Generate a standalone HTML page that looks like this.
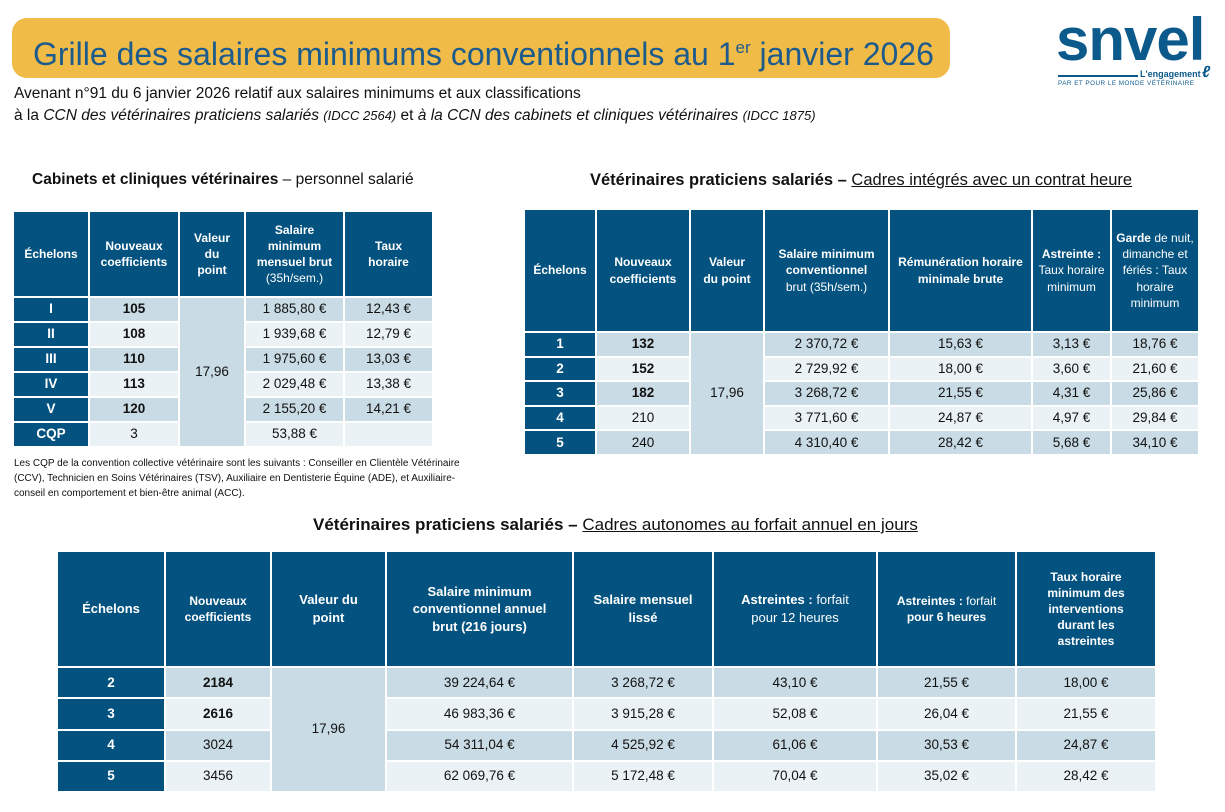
<!DOCTYPE html>
<html><head><meta charset="utf-8"><style>
*{margin:0;padding:0;box-sizing:border-box}
body{width:1225px;height:812px;background:#fff;position:relative;font-family:"Liberation Sans",sans-serif;color:#111;overflow:hidden}
.abs{position:absolute}
.title{left:12px;top:18px;width:938px;height:60px;background:#f0bb47;border-radius:15px;color:#1d5b8c;font-size:32px;line-height:60px;padding-left:21px;white-space:nowrap}
.title sup{font-size:17px;vertical-align:12px}
.sub{left:14px;font-size:15.5px;white-space:nowrap;color:#111}
.h{font-size:16px;white-space:nowrap;text-align:center}
.h b{font-weight:bold}
.h u{text-decoration:underline}
.g{position:absolute;display:grid;gap:2px;background:#fff}
.g div{display:flex;align-items:center;justify-content:center;text-align:center;font-size:13.5px;line-height:1.35}
.g .hd{background:#04527f;color:#fff;font-weight:bold;font-size:12px;padding:0 3px}
.g .hd span{font-weight:normal}
.g .e{background:#04527f;color:#fff;font-weight:bold}
.g .a{background:#c9dbe4}
.g .b{background:#eaf2f6}
.g .v{background:#c9dbe4}
.bo{font-weight:bold}
.logo{left:1056px;top:10px;color:#0c5a8c;font-weight:bold;font-size:60px;letter-spacing:-1px;line-height:60px}
</style></head><body>
<div class="abs title">Grille des salaires minimums conventionnels au 1<sup>er</sup> janvier 2026</div>
<div class="abs logo">snvel</div>
<div class="abs" style="left:1058px;top:75px;width:80px;height:2px;background:#0c5a8c"></div>
<div class="abs" style="left:1140px;top:69px;font-size:9px;font-weight:bold;color:#0c5a8c">L'engagement</div>
<div class="abs" style="left:1202px;top:64px;font-size:16px;font-weight:bold;color:#0c5a8c;font-style:italic">ℓ</div>
<div class="abs" style="left:1058px;top:80px;font-size:6.3px;color:#0c5a8c;letter-spacing:0.5px">PAR ET POUR LE MONDE VÉTÉRINAIRE</div>

<div class="abs sub" style="top:85px">Avenant n°91 du 6 janvier 2026 relatif aux salaires minimums et aux classifications</div>
<div class="abs sub" style="top:107px">à la <i>CCN des vétérinaires praticiens salariés <span style="font-size:13px">(IDCC 2564)</span></i> et <i>à la CCN des cabinets et cliniques vétérinaires <span style="font-size:13px">(IDCC 1875)</span></i></div>

<div class="abs h" style="left:32px;top:171px;font-size:15.5px"><b>Cabinets et cliniques vétérinaires</b> – personnel salarié</div>
<div class="abs h" style="left:590px;top:171px;font-size:16.5px"><b>Vétérinaires praticiens salariés –</b> <u>Cadres intégrés avec un contrat heure</u></div>
<div class="abs h" style="left:313px;top:515px;font-size:17px"><b>Vétérinaires praticiens salariés –</b> <u>Cadres autonomes au forfait annuel en jours</u></div>

<div class="g" style="left:14px;top:212px;grid-template-columns:74px 88px 64px 97px 87px;grid-template-rows:84px repeat(6,23px)">
<div class="hd"><p>Échelons</p></div><div class="hd"><p>Nouveaux coefficients</p></div><div class="hd"><p>Valeur<br>du<br>point</p></div><div class="hd"><p>Salaire minimum mensuel brut<br><span>(35h/sem.)</span></p></div><div class="hd"><p>Taux<br>horaire</p></div>
<div class="e">I</div><div class="a bo">105</div><div class="v" style="grid-row:2/8;grid-column:3">17,96</div><div class="a">1 885,80 €</div><div class="a">12,43 €</div>
<div class="e">II</div><div class="b bo">108</div><div class="b">1 939,68 €</div><div class="b">12,79 €</div>
<div class="e">III</div><div class="a bo">110</div><div class="a">1 975,60 €</div><div class="a">13,03 €</div>
<div class="e">IV</div><div class="b bo">113</div><div class="b">2 029,48 €</div><div class="b">13,38 €</div>
<div class="e">V</div><div class="a bo">120</div><div class="a">2 155,20 €</div><div class="a">14,21 €</div>
<div class="e">CQP</div><div class="b">3</div><div class="b">53,88 €</div><div class="b"></div>
</div>

<div class="abs" style="left:14px;top:456px;width:470px;font-size:10px;line-height:15px">Les CQP de la convention collective vétérinaire sont les suivants : Conseiller en Clientèle Vétérinaire (CCV), Technicien en Soins Vétérinaires (TSV), Auxiliaire en Dentisterie Équine (ADE), et Auxiliaire-conseil en comportement et bien-être animal (ACC).</div>

<div class="g" style="left:525px;top:210px;grid-template-columns:70px 92px 72px 123px 141px 77px 86px;grid-template-rows:121px repeat(5,22.6px)">
<div class="hd"><p>Échelons</p></div><div class="hd"><p>Nouveaux coefficients</p></div><div class="hd"><p>Valeur<br>du point</p></div><div class="hd"><p>Salaire minimum conventionnel<br><span>brut (35h/sem.)</span></p></div><div class="hd"><p>Rémunération horaire minimale brute</p></div><div class="hd"><p>Astreinte :<br><span>Taux horaire minimum</span></p></div><div class="hd"><p>Garde <span>de nuit, dimanche et fériés : Taux horaire minimum</span></p></div>
<div class="e">1</div><div class="a bo">132</div><div class="v" style="grid-row:2/7;grid-column:3">17,96</div><div class="a">2 370,72 €</div><div class="a">15,63 €</div><div class="a">3,13 €</div><div class="a">18,76 €</div>
<div class="e">2</div><div class="b bo">152</div><div class="b">2 729,92 €</div><div class="b">18,00 €</div><div class="b">3,60 €</div><div class="b">21,60 €</div>
<div class="e">3</div><div class="a bo">182</div><div class="a">3 268,72 €</div><div class="a">21,55 €</div><div class="a">4,31 €</div><div class="a">25,86 €</div>
<div class="e">4</div><div class="b">210</div><div class="b">3 771,60 €</div><div class="b">24,87 €</div><div class="b">4,97 €</div><div class="b">29,84 €</div>
<div class="e">5</div><div class="a">240</div><div class="a">4 310,40 €</div><div class="a">28,42 €</div><div class="a">5,68 €</div><div class="a">34,10 €</div>
</div>

<div class="g" style="left:58px;top:552px;grid-template-columns:106px 104px 113px 185px 138px 162px 137px 138px;grid-template-rows:114px repeat(4,29.25px)">
<div class="hd" style="font-size:13px"><p>Échelons</p></div><div class="hd"><p>Nouveaux coefficients</p></div><div class="hd" style="font-size:13px"><p>Valeur du<br>point</p></div><div class="hd" style="font-size:13px;padding:0 12px"><p>Salaire minimum conventionnel annuel brut (216 jours)</p></div><div class="hd" style="font-size:13px"><p>Salaire mensuel<br>lissé</p></div><div class="hd" style="font-size:13px;padding:0 14px"><p>Astreintes : <span>forfait pour 12 heures</span></p></div><div class="hd" style="padding:0 10px"><p>Astreintes : <span>forfait</span> pour 6 heures</p></div><div class="hd" style="padding:0 14px"><p>Taux horaire minimum des interventions durant les astreintes</p></div>
<div class="e">2</div><div class="a bo">2184</div><div class="v" style="grid-row:2/6;grid-column:3">17,96</div><div class="a">39 224,64 €</div><div class="a">3 268,72 €</div><div class="a">43,10 €</div><div class="a">21,55 €</div><div class="a">18,00 €</div>
<div class="e">3</div><div class="b bo">2616</div><div class="b">46 983,36 €</div><div class="b">3 915,28 €</div><div class="b">52,08 €</div><div class="b">26,04 €</div><div class="b">21,55 €</div>
<div class="e">4</div><div class="a">3024</div><div class="a">54 311,04 €</div><div class="a">4 525,92 €</div><div class="a">61,06 €</div><div class="a">30,53 €</div><div class="a">24,87 €</div>
<div class="e">5</div><div class="b">3456</div><div class="b">62 069,76 €</div><div class="b">5 172,48 €</div><div class="b">70,04 €</div><div class="b">35,02 €</div><div class="b">28,42 €</div>
</div>
</body></html>
